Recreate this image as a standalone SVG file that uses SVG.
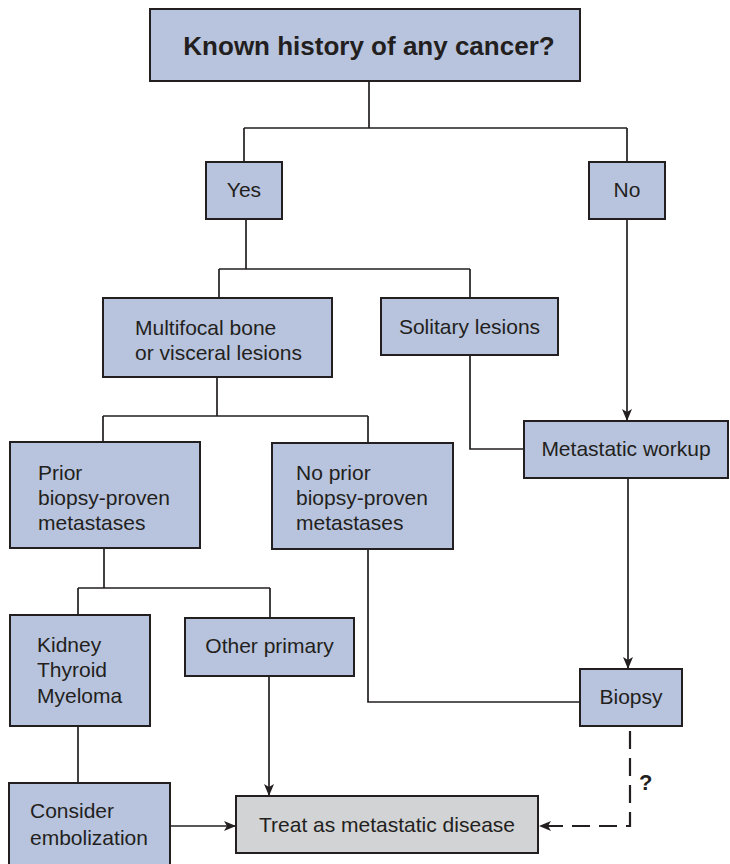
<svg xmlns="http://www.w3.org/2000/svg" width="730" height="864" viewBox="0 0 730 864">
  <defs>
    <style>
      .box { fill: #b8c4dd; stroke: #231f20; stroke-width: 2; }
      .grey { fill: #d2d3d5; stroke: #231f20; stroke-width: 2; }
      .lbl { font-family: "Liberation Sans", Arial, sans-serif; font-size: 21px; fill: #231f20; }
      .title { font-family: "Liberation Sans", Arial, sans-serif; font-size: 26px; font-weight: bold; fill: #231f20; }
      .q { font-family: "Liberation Sans", Arial, sans-serif; font-size: 22px; font-weight: bold; fill: #231f20; }
      .ln { fill: none; stroke: #231f20; stroke-width: 1.7; }
      .dash { fill: none; stroke: #231f20; stroke-width: 2.2; stroke-dasharray: 18 9; }
    </style>
    <marker id="arrow" viewBox="0 0 12 10" refX="11" refY="5" markerWidth="12" markerHeight="10" markerUnits="userSpaceOnUse" orient="auto">
      <path d="M0,0 L12,5 L0,10 L3,5 Z" fill="#231f20"/>
    </marker>
  </defs>

  <!-- connectors -->
  <g id="connectors">
    <path class="ln" d="M369,81 V128 M244,128 H627 M244,128 V162 M627,128 V162"/>
    <path class="ln" d="M246,219 V269 M219,269 H470 M219,269 V298 M470,269 V298"/>
    <path class="ln" d="M627,219 V420" marker-end="url(#arrow)"/>
    <path class="ln" d="M470,355 V449 H524"/>
    <path class="ln" d="M217,377 V416 M103,416 H368 M103,416 V442 M368,416 V443"/>
    <path class="ln" d="M628,478 V668" marker-end="url(#arrow)"/>
    <path class="ln" d="M368,549 V702 H580"/>
    <path class="ln" d="M104,548 V588 M78,588 H270 M78,588 V615 M270,588 V618"/>
    <path class="ln" d="M269,676 V795" marker-end="url(#arrow)"/>
    <path class="ln" d="M78,726 V783"/>
    <path class="ln" d="M170,826 H235" marker-end="url(#arrow)"/>
    <path class="dash" d="M630,731 V826 H540" marker-end="url(#arrow)"/>
    <text class="q" x="639" y="790">?</text>
  </g>

  <g id="known-history">
    <rect class="box" x="150" y="9" width="430" height="72"/>
    <text class="title" x="369" y="55" text-anchor="middle">Known history of any cancer?</text>
  </g>

  <g id="yes">
    <rect class="box" x="206" y="162" width="76" height="57"/>
    <text class="lbl" x="244" y="197" text-anchor="middle">Yes</text>
  </g>

  <g id="no">
    <rect class="box" x="589" y="162" width="76" height="57"/>
    <text class="lbl" x="627" y="197" text-anchor="middle">No</text>
  </g>

  <g id="multifocal">
    <rect class="box" x="103" y="298" width="229" height="79"/>
    <text class="lbl" x="135" y="335">Multifocal bone</text>
    <text class="lbl" x="135" y="360">or visceral lesions</text>
  </g>

  <g id="solitary">
    <rect class="box" x="381" y="298" width="177" height="57"/>
    <text class="lbl" x="469.5" y="334" text-anchor="middle">Solitary lesions</text>
  </g>

  <g id="metastatic-workup">
    <rect class="box" x="524" y="421" width="204" height="57"/>
    <text class="lbl" x="626" y="456" text-anchor="middle">Metastatic workup</text>
  </g>

  <g id="prior">
    <rect class="box" x="10" y="442" width="190" height="106"/>
    <text class="lbl" x="38" y="480">Prior</text>
    <text class="lbl" x="38" y="505">biopsy-proven</text>
    <text class="lbl" x="38" y="530">metastases</text>
  </g>

  <g id="no-prior">
    <rect class="box" x="272" y="443" width="181" height="106"/>
    <text class="lbl" x="296" y="480">No prior</text>
    <text class="lbl" x="296" y="505">biopsy-proven</text>
    <text class="lbl" x="296" y="530">metastases</text>
  </g>

  <g id="kidney">
    <rect class="box" x="10" y="615" width="140" height="111"/>
    <text class="lbl" x="37" y="652">Kidney</text>
    <text class="lbl" x="37" y="677">Thyroid</text>
    <text class="lbl" x="37" y="703">Myeloma</text>
  </g>

  <g id="other-primary">
    <rect class="box" x="185" y="618" width="169" height="58"/>
    <text class="lbl" x="269.5" y="653" text-anchor="middle">Other primary</text>
  </g>

  <g id="biopsy">
    <rect class="box" x="580" y="669" width="102" height="57"/>
    <text class="lbl" x="631" y="704" text-anchor="middle">Biopsy</text>
  </g>

  <g id="consider">
    <rect class="box" x="9" y="783" width="161" height="92"/>
    <text class="lbl" x="30" y="818">Consider</text>
    <text class="lbl" x="30" y="845">embolization</text>
  </g>

  <g id="treat">
    <rect class="grey" x="236" y="796" width="302" height="57"/>
    <text class="lbl" x="387" y="832" text-anchor="middle">Treat as metastatic disease</text>
  </g>
</svg>
